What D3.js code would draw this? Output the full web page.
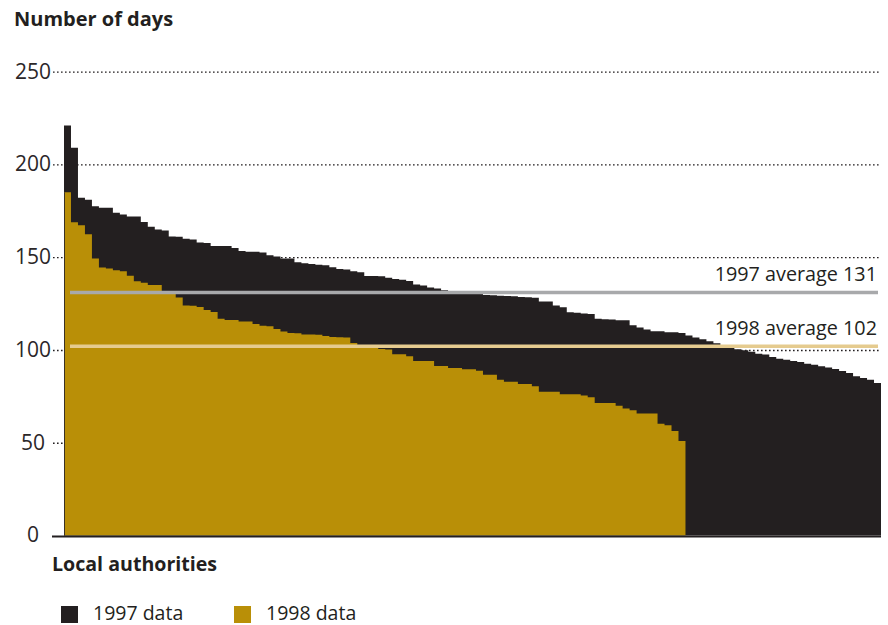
<!DOCTYPE html>
<html>
<head>
<meta charset="utf-8">
<script src="https://cdn.jsdelivr.net/npm/d3@7/dist/d3.min.js"></script>
<style>
  html, body { margin: 0; padding: 0; background: #ffffff; }
  svg { display: block; }
  text { font-family: "Open Sans", "Noto Sans", sans-serif; fill: #231f20; }
</style>
</head>
<body>
<svg id="chart" width="888" height="625"></svg>
<script>
// ---- Data ----
const values1997 = [
  221, 209, 182, 181, 177.5, 176.6, 176.6, 174, 173, 172,
  172, 169, 166.4, 165, 164.4, 161.2, 161, 160, 159.6, 158,
  157.6, 156, 156, 156, 155, 153.3, 153, 153, 152.5, 151,
  150.4, 149.3, 149.3, 147.3, 146.8, 146.3, 146, 145.7, 144.6, 143.7,
  143.4, 142.5, 141.9, 139.9, 139.9, 139.7, 139, 138.2, 137.8, 137.2,
  135.3, 134.8, 133.7, 133.1, 132.2, 131.8, 131.2, 131, 130.8, 130.5,
  129.7, 129.5, 129.2, 129.1, 128.9, 128.6, 128.4, 128.2, 126.1, 126.1,
  124, 123, 120.3, 120.1, 119.6, 119.4, 116.9, 116.6, 116.4, 116,
  116, 113.3, 112.1, 111, 110.1, 110.1, 109.6, 109.6, 109.2, 107.8,
  106.7, 105.8, 104.7, 103.6, 102.6, 101.6, 100.4, 99.8, 99.1, 98,
  97.5, 96.2, 95.3, 94.8, 94.1, 93.5, 92.6, 92.1, 91.2, 90.5,
  89.7, 88.7, 87.6, 85.8, 84.9, 84, 82.2
];
const values1998 = [
  185, 168.8, 167.3, 162.4, 149.3, 144.5, 143.9, 143, 142.5, 140,
  137, 136.2, 135, 135, 131.5, 130.8, 128.3, 124, 123.8, 123.2,
  121.6, 120.5, 116.9, 116.2, 116.2, 115.3, 115.3, 114, 113, 112.8,
  111.3, 110, 109.1, 109, 108.3, 108.3, 108.2, 107.5, 107, 106.9,
  106.7, 103.7, 102.6, 102, 101.4, 100.5, 100.2, 97.7, 97.7, 96.6,
  94.1, 94.1, 94, 91.4, 91.4, 90.3, 90.3, 89.6, 89.6, 88.8,
  86.7, 86.7, 84, 82.9, 82.9, 81.7, 81.7, 80.4, 77.5, 77.5,
  77.5, 76.1, 76.1, 76.1, 75.4, 74.5, 71.4, 71.4, 71.4, 70,
  68.5, 67.5, 65.7, 65.7, 65.7, 60.3, 59.4, 56.3, 50.9
];
const authorities = values1997.map((d, i) => i);   // categories: local authorities (ranked)
const yTicks = [0, 50, 100, 150, 200, 250];
const averageYears = ["1997", "1998"];
const averageValues = [131, 102];
const seriesNames = ["1997 data", "1998 data"];

// ---- Styles ----
const colBlack = "#231f20";
const colGold = "#b98f07";
const avgColors = ["#a8a9ab", "#e5cb8f"];

const svg = d3.select("#chart");

const x = d3.scaleBand().domain(authorities).range([64, 881]).padding(0);
const y = d3.scaleLinear().domain([0, 250]).range([535.5, 71.7]);

// gridlines + tick labels via axis
const axis = d3.axisLeft(y)
  .tickValues(yTicks)
  .tickSize(-(880 - 53))
  .tickPadding(0)
  .tickFormat(d3.format("d"));
const gAxis = svg.append("g").attr("transform", "translate(53,0)").call(axis);
gAxis.select(".domain").remove();
gAxis.selectAll(".tick line")
  .attr("stroke", colBlack)
  .attr("stroke-width", 1.3)
  .attr("stroke-dasharray", "1.6,2.4")
  .attr("opacity", d => d === 0 ? 0 : 1);
gAxis.selectAll(".tick text")
  .attr("x", -20)
  .attr("dy", "0.3em")
  .attr("text-anchor", "middle")
  .style("font-family", "'Open Sans', sans-serif")
  .style("font-size", "21px")
  .style("fill", "#2b2728");

// step-shaped series drawn as areas through the band scale (no seams between bars)
function stepPoints(vals) {
  const pts = [];
  vals.forEach((v, i) => {
    const x0 = x(authorities[i]);
    pts.push([x0, v]);
    pts.push([x0 + x.bandwidth(), v]);
  });
  return pts;
}
const area = d3.area()
  .x(d => d[0])
  .y0(y(0))
  .y1(d => y(d[1]));

svg.append("path")
  .datum(stepPoints(values1997))
  .attr("d", area)
  .attr("fill", colBlack);

svg.append("path")
  .datum(stepPoints(values1998))
  .attr("d", area)
  .attr("fill", colGold);

// left edge line
svg.append("line")
  .attr("x1", 64.5).attr("x2", 64.5)
  .attr("y1", y(values1998[0])).attr("y2", y(0))
  .attr("stroke", "#3a3226").attr("stroke-width", 1);

// baseline axis
svg.append("line")
  .attr("x1", 52).attr("x2", 881)
  .attr("y1", y(0) + 1).attr("y2", y(0) + 1)
  .attr("stroke", colBlack).attr("stroke-width", 2.2);

// average lines
averageValues.forEach((v, i) => {
  svg.append("line")
    .attr("x1", 70).attr("x2", 878)
    .attr("y1", y(v)).attr("y2", y(v))
    .attr("stroke", avgColors[i]).attr("stroke-width", 3.6);
  svg.append("text")
    .attr("x", 877)
    .attr("y", y(v) - 11.5)
    .attr("text-anchor", "end")
    .style("font-size", "19.8px")
    .text(averageYears[i] + " average " + v);
});

// titles
svg.append("text")
  .attr("x", 14).attr("y", 26)
  .style("font-size", "20px").style("font-weight", "bold")
  .text("Number of days");

svg.append("text")
  .attr("x", 52).attr("y", 570.5)
  .style("font-size", "19.6px").style("font-weight", "bold")
  .text("Local authorities");

// legend
const legendX = [61, 234];
const legendCols = [colBlack, colGold];
seriesNames.forEach((name, i) => {
  svg.append("rect")
    .attr("x", legendX[i]).attr("y", 606)
    .attr("width", 17).attr("height", 17)
    .attr("fill", legendCols[i]);
  svg.append("text")
    .attr("x", legendX[i] + 32).attr("y", 619.5)
    .style("font-size", "19.5px")
    .text(name);
});
</script>
</body>
</html>
